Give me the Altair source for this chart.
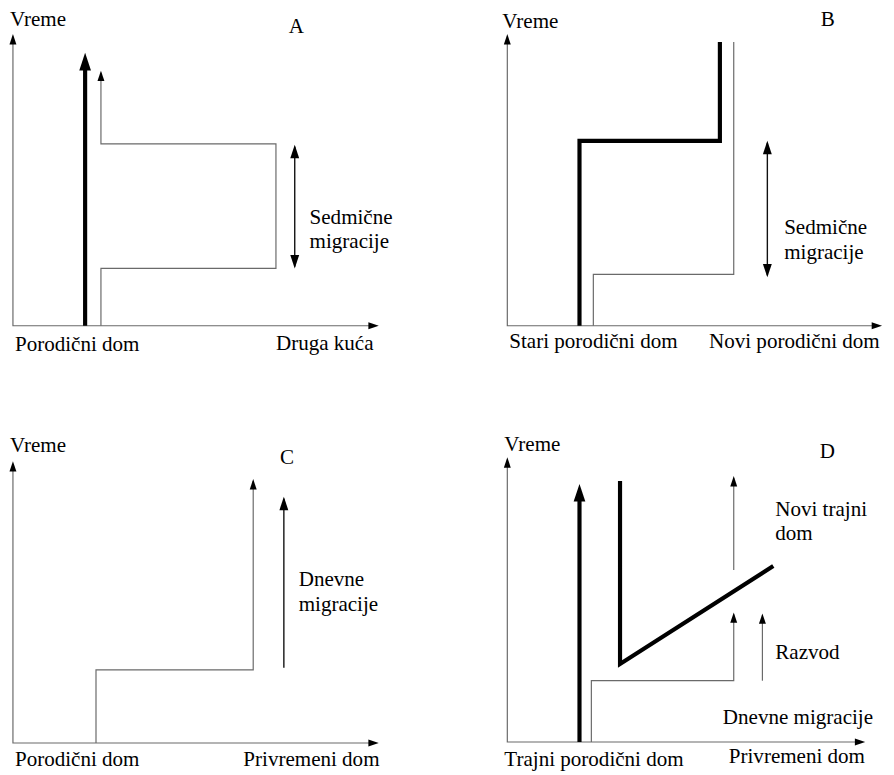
import altair as alt
import pandas as pd

# ---------------- data (local diagram units: x = place, y = time; origin at axis corner) -------------
panels = ["A", "B", "C", "D"]
axis_x_tip = [370, 379, 370, 362]
axis_y_tip = [295, 295, 285, 288]

# polylines: (panel, style, xs, ys)
line_panel = ["A", "A", "A", "B", "B", "B", "C", "C", "D", "D", "D", "D", "D"]
line_style = ["thin", "dark", "thick", "thick", "thin", "dark", "thin", "dark", "thick", "thick", "thin", "thin", "thin"]
line_xs = [
    [89, 89, 266, 266, 89, 89],
    [285, 285],
    [73, 73],
    [73, 73, 215, 215],
    [87, 87, 229, 229],
    [263, 263],
    [84, 84, 243, 243],
    [274, 274],
    [73, 73],
    [114, 114, 269],
    [85, 85, 229, 229],
    [229, 229],
    [258, 258],
]
line_ys = [
    [0, 58, 58, 184, 184, 256],
    [60, 181],
    [0, 262],
    [0, 187, 187, 287],
    [0, 52, 52, 287],
    [51, 185],
    [0, 74, 74, 265],
    [76, 247],
    [0, 247],
    [264, 79, 178],
    [0, 62, 62, 129],
    [174, 267],
    [62, 128],
]

# arrow heads: tip positions
head_panel = ["A", "A", "A", "A", "B", "B", "C", "C", "D", "D", "D", "D"]
head_x = [73, 89, 285, 285, 263, 263, 243, 274, 73, 229, 229, 258]
head_y = [276, 258, 183, 58, 187, 49, 267, 249, 261, 131, 269, 130]
head_dir = ["up", "up", "up", "down", "up", "down", "up", "up", "up", "up", "up", "up"]
head_kind = ["thick", "thin", "mid", "mid", "mid", "mid", "thin", "mid", "thick", "thin", "thin", "thin"]

# texts
text_panel = ["A", "A", "A", "A", "A", "A",
              "B", "B", "B", "B", "B", "B",
              "C", "C", "C", "C", "C", "C",
              "D", "D", "D", "D", "D", "D", "D", "D"]
text_label = ["Vreme", "A", "Sedmične", "migracije", "Porodični dom", "Druga kuća",
              "Vreme", "B", "Sedmične", "migracije", "Stari porodični dom", "Novi porodični dom",
              "Vreme", "C", "Dnevne", "migracije", "Porodični dom", "Privremeni dom",
              "Vreme", "D", "Novi trajni", "dom", "Razvod", "Dnevne migracije",
              "Trajni porodični dom", "Privremeni dom"]
text_x = [-3, 279, 300, 300, 2, 266,
          -5, 317, 280, 280, 2, 204,
          -3, 270, 289, 289, 2, 233,
          -3, 316, 271, 271, 271, 218, -3, 224]
text_y = [303, 296, 103, 79, -26, -25,
          301, 303, 93, 68, -23, -23,
          294, 282, 159, 134, -23, -23,
          294, 287, 229, 204, 84, 18, -24, -21]

# ---------------- layout (panel origins in chart units) ----------------
origin = {"A": (5, 442), "B": (505, 442), "C": (5, 20), "D": (505, 21)}
W, H = 878, 759

rows = []
for i, (p, st, xs, ys) in enumerate(zip(line_panel, line_style, line_xs, line_ys)):
    ox, oy = origin[p]
    for j, (x, y) in enumerate(zip(xs, ys)):
        rows.append({"id": f"l{i}", "seq": j, "style": st, "gx": x + ox, "gy": y + oy})
# axes
for k, p in enumerate(panels):
    ox, oy = origin[p]
    rows.append({"id": f"ax{k}", "seq": 0, "style": "axis", "gx": ox + axis_x_tip[k] - 6, "gy": oy})
    rows.append({"id": f"ax{k}", "seq": 1, "style": "axis", "gx": ox, "gy": oy})
    rows.append({"id": f"ax{k}", "seq": 2, "style": "axis", "gx": ox, "gy": oy + axis_y_tip[k] - 6})
lines_df = pd.DataFrame(rows)

size_of = {"thin": 196, "mid": 324, "thick": 560}
hrows = []
for p, x, y, d, k in zip(head_panel, head_x, head_y, head_dir, head_kind):
    ox, oy = origin[p]
    hrows.append({"gx": x + ox, "gy": y + oy, "dir": d, "size": size_of[k]})
for k, p in enumerate(panels):
    ox, oy = origin[p]
    hrows.append({"gx": ox + axis_x_tip[k], "gy": oy, "dir": "right", "size": 196})
    hrows.append({"gx": ox, "gy": oy + axis_y_tip[k], "dir": "up", "size": 196})
heads_df = pd.DataFrame(hrows)

trows = []
for p, lab, x, y in zip(text_panel, text_label, text_x, text_y):
    ox, oy = origin[p]
    trows.append({"label": lab, "gx": x + ox, "gy": y + oy})
text_df = pd.DataFrame(trows)

X = alt.X("gx:Q", scale=alt.Scale(domain=[0, W], nice=False, zero=False), axis=None)
Y = alt.Y("gy:Q", scale=alt.Scale(domain=[0, H], nice=False, zero=False), axis=None)

lb = alt.Chart(lines_df)
thin = lb.transform_filter("datum.style == 'thin' || datum.style == 'axis'").mark_line(
    color="#6a6a6a", strokeWidth=1.2, strokeJoin="miter", strokeCap="butt"
).encode(x=X, y=Y, detail="id:N", order="seq:Q")
dark = lb.transform_filter("datum.style == 'dark'").mark_line(
    color="#111111", strokeWidth=1.4, strokeCap="butt"
).encode(x=X, y=Y, detail="id:N", order="seq:Q")
thick = lb.transform_filter("datum.style == 'thick'").mark_line(
    color="#000000", strokeWidth=4.2, strokeJoin="miter", strokeCap="butt"
).encode(x=X, y=Y, detail="id:N", order="seq:Q")

hb = alt.Chart(heads_df)
head_layers = []
for d, path in [("up", "M0,0L0.5,1.5L-0.5,1.5Z"),
                ("down", "M0,0L0.5,-1.5L-0.5,-1.5Z"),
                ("right", "M0,0L-1.5,-0.5L-1.5,0.5Z")]:
    head_layers.append(
        hb.transform_filter(f"datum.dir == '{d}'").mark_point(
            shape=path, filled=True, color="#000000", opacity=1, strokeWidth=0
        ).encode(x=X, y=Y, size=alt.Size("size:Q", scale=None, legend=None))
    )

texts = alt.Chart(text_df).mark_text(
    align="left", baseline="alphabetic",
    font="'Liberation Serif', 'Times New Roman', 'DejaVu Serif', serif",
    fontSize=21.3, color="#000000"
).encode(x=X, y=Y, text="label:N")

chart = alt.layer(thin, dark, thick, *head_layers, texts).properties(
    width=W, height=H,
    autosize=alt.AutoSizeParams(type="none"),
    padding={"left": 0, "top": 0, "right": 10, "bottom": 8},
).configure_view(stroke=None)

chart.save("out.html", embed_options={"renderer": "svg", "actions": False})
